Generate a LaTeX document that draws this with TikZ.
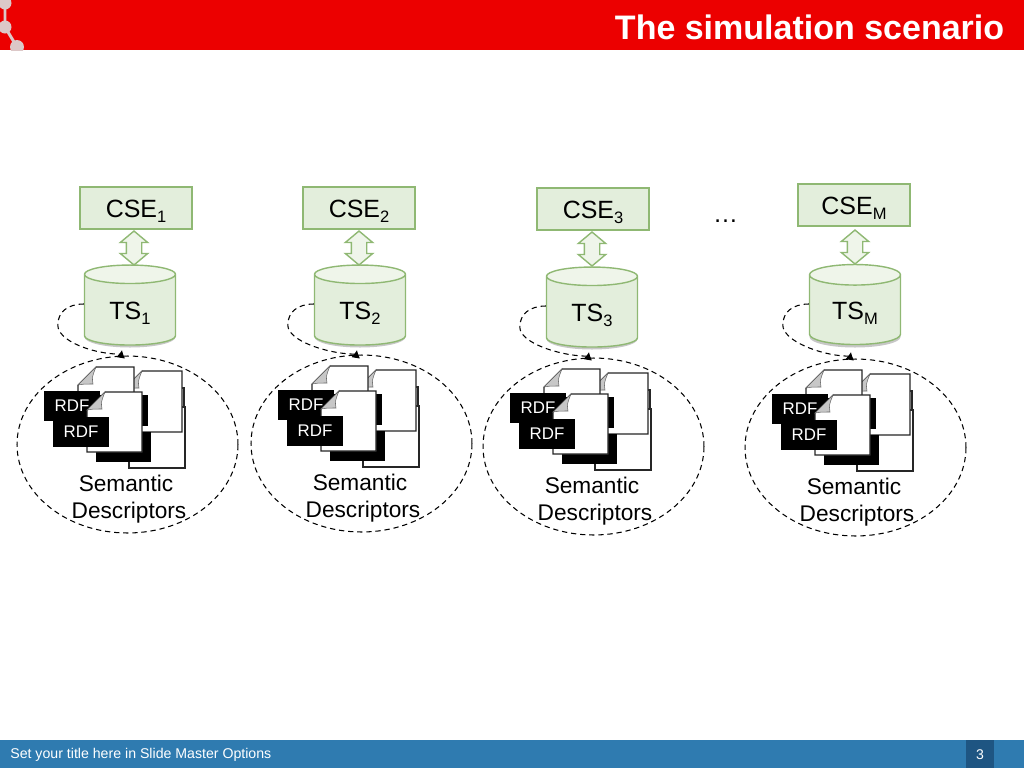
\documentclass[tikz,border=0pt]{standalone}
\usepackage{fontspec}
\setmainfont{Liberation Sans}
\usetikzlibrary{positioning,calc,arrows.meta,shapes.geometric,shapes.arrows,shadows}
\definecolor{hdred}{HTML}{EC0000}
\definecolor{ftblue}{HTML}{2F7BB0}
\definecolor{numblue}{HTML}{1E5582}
\definecolor{dotpink}{HTML}{DCC8C8}
\definecolor{boxfill}{HTML}{E3EEDC}
\definecolor{boxline}{HTML}{8FB873}
\definecolor{topfill}{HTML}{EFF5EA}
\tikzset{
  softshadow/.style={drop shadow={shadow xshift=0pt,shadow yshift=-.8pt,opacity=.25,fill=black!60}},
  csebox/.style={draw=boxline,fill=boxfill,line width=.8pt,minimum width=2.24cm,minimum height=.84cm,inner sep=0pt,text height=.38cm,text depth=0cm,font=\fontsize{14.2}{16}\selectfont,softshadow},
  tsdb/.style={cylinder,shape border rotate=90,aspect=.45,minimum width=1.82cm,minimum height=1.6cm,inner sep=0pt,text height=.48cm,text depth=.11cm,draw=boxline,line width=.8pt,cylinder uses custom fill,cylinder body fill=boxfill,cylinder end fill=topfill,font=\fontsize{14.2}{16}\selectfont},
  tsshade/.style={ellipse,fill=black,opacity=.22,minimum width=1.82cm,minimum height=.42cm,inner sep=0pt},
  biarrow/.style={double arrow,double arrow head extend=.12cm,double arrow tip angle=100,draw=boxline,fill=topfill,line width=.8pt,minimum width=.52cm,minimum height=.68cm,inner xsep=0pt,inner ysep=.14cm,rotate=90},
  dashlink/.style={draw=black,line width=.6pt,dash pattern=on 3pt off 2.2pt},
  sdring/.style={ellipse,dashlink,minimum width=4.42cm,minimum height=3.54cm,inner sep=0pt},
  rdfbox/.style={fill=black,text=white,minimum width=1.12cm,minimum height=.6cm,inner sep=0pt,font=\fontsize{9.6}{11}\selectfont},
  sdlabel/.style={align=center,inner sep=0pt,font=\fontsize{12.9}{15}\selectfont},
}
\newcommand{\lowsub}[1]{\raisebox{-.1cm}{\fontsize{9.4}{10}\selectfont #1}}
% one sheet with a curled corner: left, top, right, bottom
\newcommand{\rdfpage}[4]{
  \filldraw[draw=black!85,fill=white,line width=.6pt] (#1+18,#2) -- (#3,#2) -- (#3,#4) -- (#1,#4) -- (#1,#2+18) -- cycle;
  \filldraw[draw=black!60,fill=black!22,line width=.3pt] (#1+18,#2) -- (#1,#2+18) .. controls (#1+6,#2+17) .. (#1+15,#2+17) .. controls (#1+14,#2+10) .. cycle;
}
\begin{document}
\begin{tikzpicture}[x=.02cm,y=-.02cm]
  \useasboundingbox (0,0) rectangle (1024,768);
  % header and footer
  \fill[hdred] (0,0) rectangle (1024,50);
  \begin{scope}
    \clip (0,0) rectangle (1024,50);
    \draw[dotpink,line width=1.7pt] (5,3) -- (5,27) -- (17,47);
    \fill[dotpink] (5,3) circle (6.5) (5,27) circle (6.5) (17,47) circle (7);
  \end{scope}
  \node[text=white,font=\fontsize{19.35}{22}\selectfont\bfseries,anchor=east,inner sep=0pt] (title) at (1004.5,27) {The simulation scenario};
  \fill[ftblue] (0,740) rectangle (1024,768);
  \fill[numblue] (966,740) rectangle (994,768);
  \node[text=white,font=\fontsize{8.05}{10}\selectfont,anchor=west,inner sep=0pt] (foot) at (10,755) {Set your title here in Slide Master Options};
  \node[text=white,font=\fontsize{8}{10}\selectfont,inner sep=0pt] (pagenum) at (980,755) {3};
  \node[font=\fontsize{14.2}{16}\selectfont,anchor=base,inner sep=0pt] (more) at (725.5,222) {…};
  % the four stores: name, cse x,y, arrow x,y, store x,y, loop tip x,y, group shift x,y
  \foreach \n/\cx/\cy/\ax/\ay/\tx/\ty/\px/\py/\gx/\gy in {
      1/136/208/134/248/130/310/122/350/0/0,
      2/359/208/359/248/360/310/357/350/234/-1,
      3/593/209/592/249/592/312/589/352/466/2,
      M/854/205/855/247/855/310/851/352/728/3}{
    \node[csebox] (cse\n) at (\cx,\cy) {CSE\lowsub{\n}};
    \node[tsshade] (shade\n) at (\tx,\ty+27) {};
    \node[tsdb] (ts\n) at (\tx,\ty) {TS\lowsub{\n}};
    \node[biarrow] (link\n) at (\ax,\ay) {};
    \coordinate (tip\n) at (\px,\py);
    \coordinate (start\n) at ($(ts\n.west)+(0,-6)$);
    \coordinate (bulge\n) at ($(start\n)+(-26,21)$);
    \begin{scope}[shift={(\gx,\gy)}]
      \node[sdring] (ring\n) at (127.5,444.5) {};
      \draw[black!85,fill=white,line width=.6pt] (129,388) rectangle (184,420);
      \draw[black!85,fill=white,line width=.6pt] (129,407) rectangle (185,468);
      \rdfpage{124}{371}{182}{432}
      \rdfpage{78}{367}{134}{430}
      \fill[black] (92,395) rectangle (148,426);
      \fill[black] (96,432) rectangle (151,462);
      \node[rdfbox] (rdfa\n) at (72,406) {RDF};
      \rdfpage{87}{392}{142}{452}
      \node[rdfbox] (rdfb\n) at (81,431.5) {RDF};
      \node[sdlabel] (sd\n) at (129,499) {Semantic\hspace*{.12cm}\\Descriptors};
    \end{scope}
    \draw[dashlink,-{Latex[length=4.5pt,width=5pt]}] (start\n) .. controls ($(start\n)+(-16,0)$) and ($(bulge\n)+(0,-13)$) .. (bulge\n) .. controls ($(bulge\n)+(0,16)$) and ($(tip\n)+(-30,3)$) .. ($(tip\n)+(-6,4)$) .. controls ($(tip\n)+(-2,4.5)$) and ($(tip\n)+(-.5,3)$) .. (tip\n);
  }
\end{tikzpicture}
\end{document}
